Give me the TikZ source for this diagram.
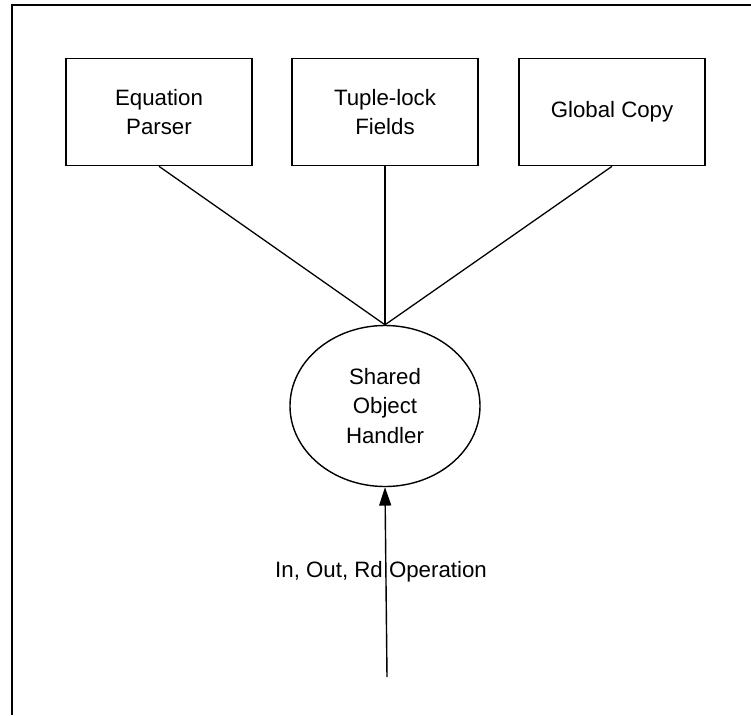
\documentclass[tikz,border=0pt]{standalone}
\usepackage{fontspec}
\setmainfont{Liberation Sans}
\usetikzlibrary{shapes.geometric, arrows.meta, positioning}
\tikzset{
  partbox/.style={
    rectangle, draw, line width=1.4pt,
    minimum width=5.58cm, minimum height=3.21cm,
    align=center, font=\fontsize{19}{25}\selectfont
  },
  handler/.style={
    ellipse, draw, line width=1.2pt, inner sep=0pt,
    minimum width=5.7cm, minimum height=4.83cm,
    align=center, font=\fontsize{19}{25}\selectfont
  },
  link/.style={line width=1.1pt},
  arrow/.style={-{Triangle[length=0.55cm, width=0.36cm]}, line width=1.2pt},
}

\begin{document}
\begin{tikzpicture}[x=0.03cm, y=-0.03cm]
  \useasboundingbox (0,0) rectangle (751,715);

  % Frame
  \draw[line width=1.6pt] (12,715) -- (12,5) -- (751,5);

  % Nodes
  \node[partbox] (parser) at (159,112) {Equation\\Parser};
  \node[partbox] (tuple)  at (385,112) {Tuple-lock\\Fields};
  \node[partbox] (global) at (612,112) {Global Copy};

  \node[handler] (soh) at (385,406) {Shared\\Object\\Handler};

  \coordinate (opin) at (387,677);
  \node[font=\fontsize{19}{25}\selectfont] (oplabel) at (381,572) {In, Out, Rd Operation};

  % Lines
  \foreach \a in {parser, tuple, global}{
    \draw[link] (\a.south) -- (soh.north);
  }

  % Arrow
  \draw[arrow] (opin) -- (soh.south);

\end{tikzpicture}
\end{document}
